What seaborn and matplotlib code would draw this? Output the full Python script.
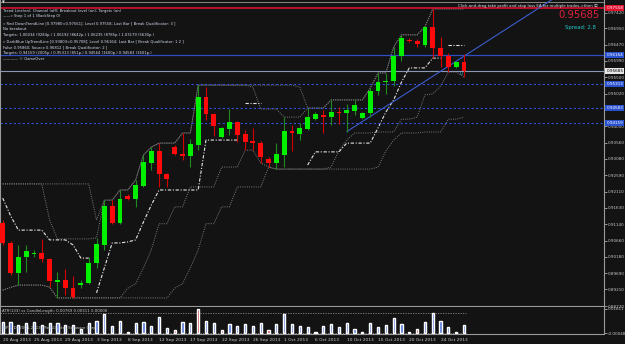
import matplotlib
matplotlib.use("Agg")
import matplotlib.pyplot as plt
import matplotlib.transforms as mtrans
import numpy as np
import pandas as pd
import seaborn as sns

# ---------------- data ----------------
date_labels = ["20 Aug 2013", "25 Aug 2013", "29 Aug 2013", "3 Sep 2013", "8 Sep 2013",
               "12 Sep 2013", "17 Sep 2013", "22 Sep 2013", "26 Sep 2013", "1 Oct 2013",
               "6 Oct 2013", "10 Oct 2013", "15 Oct 2013", "20 Oct 2013", "24 Oct 2013"]

opens = [0.9118, 0.9059, 0.8970, 0.9017, 0.9026, 0.9029, 0.9011, 0.8943, 0.8949, 0.8925,
         0.8934, 0.8940, 0.9000, 0.9053, 0.9169, 0.9118, 0.9198, 0.9189, 0.9228, 0.9296,
         0.9332, 0.9263, 0.9343, 0.9323, 0.9317, 0.9349, 0.9492, 0.9441, 0.9373, 0.9397,
         0.9418, 0.9382, 0.9361, 0.9355, 0.9308, 0.9296, 0.9320, 0.9391, 0.9382, 0.9397,
         0.9427, 0.9438, 0.9432, 0.9447, 0.9444, 0.9450, 0.9429, 0.9444, 0.9510, 0.9536,
         0.9539, 0.9613, 0.9661, 0.9658, 0.9646, 0.9699, 0.9637, 0.9613, 0.9581, 0.9596]
highs = [0.9127, 0.9065, 0.9053, 0.9053, 0.9038, 0.9071, 0.9013, 0.8973, 0.8982, 0.8961,
         0.8949, 0.9017, 0.9074, 0.9186, 0.9186, 0.9216, 0.9204, 0.9246, 0.9320, 0.9343,
         0.9355, 0.9265, 0.9349, 0.9385, 0.9367, 0.9527, 0.9521, 0.9443, 0.9402, 0.9456,
         0.9420, 0.9394, 0.9400, 0.9361, 0.9314, 0.9355, 0.9432, 0.9409, 0.9415, 0.9459,
         0.9447, 0.9453, 0.9483, 0.9462, 0.9471, 0.9483, 0.9447, 0.9518, 0.9563, 0.9563,
         0.9640, 0.9676, 0.9667, 0.9664, 0.9700, 0.9753, 0.9670, 0.9622, 0.9598, 0.9619]
lows = [0.9053, 0.8964, 0.8934, 0.8973, 0.9017, 0.9003, 0.8928, 0.8896, 0.8905, 0.8896,
        0.8925, 0.8938, 0.8985, 0.9038, 0.9116, 0.9116, 0.9186, 0.9166, 0.9226, 0.9275,
        0.9225, 0.9225, 0.9320, 0.9305, 0.9284, 0.9334, 0.9424, 0.9376, 0.9371, 0.9379,
        0.9358, 0.9334, 0.9334, 0.9296, 0.9284, 0.9278, 0.9284, 0.9332, 0.9364, 0.9395,
        0.9424, 0.9385, 0.9409, 0.9412, 0.9388, 0.9438, 0.9426, 0.9432, 0.9498, 0.9501,
        0.9524, 0.9598, 0.9655, 0.9640, 0.9640, 0.9607, 0.9581, 0.9566, 0.9578, 0.9551]
closes = [0.9059, 0.8970, 0.9017, 0.9035, 0.9030, 0.9011, 0.8946, 0.8949, 0.8925, 0.8899,
          0.8940, 0.9000, 0.9056, 0.9169, 0.9118, 0.9189, 0.9189, 0.9231, 0.9299, 0.9332,
          0.9263, 0.9249, 0.9323, 0.9317, 0.9352, 0.9492, 0.9441, 0.9406, 0.9400, 0.9418,
          0.9379, 0.9358, 0.9355, 0.9314, 0.9296, 0.9323, 0.9391, 0.9385, 0.9400, 0.9432,
          0.9441, 0.9432, 0.9447, 0.9444, 0.9453, 0.9468, 0.9444, 0.9510, 0.9536, 0.9539,
          0.9613, 0.9667, 0.9658, 0.9649, 0.9699, 0.9637, 0.9613, 0.9581, 0.9596, 0.9569]

# dotted channel lines (long and short), read per bar
chan_long_up = [0.9234, 0.9234, 0.9234, 0.9234, 0.9234, 0.9234, 0.9234, 0.9234, 0.9234, 0.9234,
                0.9234, 0.9234, 0.9127, 0.9186, 0.9186, 0.9216, 0.9216, 0.9246, 0.9320, 0.9343,
                0.9355, 0.9355, 0.9355, 0.9385, 0.9385, 0.9527, 0.9527, 0.9527, 0.9527, 0.9527,
                0.9527, 0.9527, 0.9527, 0.9527, 0.9527, 0.9527, 0.9527, 0.9527, 0.9521, 0.9459,
                0.9459, 0.9459, 0.9483, 0.9483, 0.9483, 0.9483, 0.9483, 0.9518, 0.9563, 0.9563,
                0.9640, 0.9676, 0.9676, 0.9676, 0.9700, 0.9753, 0.9753, 0.9753, 0.9753, 0.9753]
chan_long_dn = [0.8919, 0.8927, 0.8934, 0.8934, 0.8934, 0.8934, 0.8928, 0.8896, 0.8896, 0.8896,
                0.8896, 0.8896, 0.8896, 0.8896, 0.8896, 0.8896, 0.8896, 0.8896, 0.8896, 0.8896,
                0.8896, 0.8896, 0.8925, 0.8938, 0.8985, 0.9038, 0.9116, 0.9116, 0.9166, 0.9166,
                0.9225, 0.9225, 0.9225, 0.9225, 0.9284, 0.9278, 0.9278, 0.9278, 0.9278, 0.9278,
                0.9278, 0.9278, 0.9278, 0.9278, 0.9278, 0.9278, 0.9278, 0.9278, 0.9284, 0.9332,
                0.9364, 0.9385, 0.9385, 0.9385, 0.9388, 0.9388, 0.9388, 0.9426, 0.9426, 0.9432]
chan_short_up = [0.9234, 0.9234, 0.9234, 0.9234, 0.9234, 0.9234, 0.9127, 0.9071, 0.9071, 0.9071,
                 0.9071, 0.9071, 0.9074, 0.9186, 0.9186, 0.9216, 0.9216, 0.9246, 0.9320, 0.9343,
                 0.9355, 0.9355, 0.9355, 0.9385, 0.9385, 0.9527, 0.9527, 0.9527, 0.9527, 0.9527,
                 0.9527, 0.9527, 0.9521, 0.9456, 0.9456, 0.9456, 0.9432, 0.9432, 0.9432, 0.9459,
                 0.9459, 0.9459, 0.9483, 0.9483, 0.9483, 0.9483, 0.9483, 0.9518, 0.9563, 0.9563,
                 0.9640, 0.9676, 0.9676, 0.9676, 0.9700, 0.9753, 0.9753, 0.9753, 0.9753, 0.9753]
chan_short_dn = [0.8919, 0.8927, 0.8934, 0.8934, 0.8934, 0.8934, 0.8928, 0.8896, 0.8896, 0.8896,
                 0.8896, 0.8896, 0.8896, 0.8896, 0.8896, 0.8896, 0.8925, 0.8938, 0.8985, 0.9038,
                 0.9116, 0.9116, 0.9166, 0.9166, 0.9225, 0.9225, 0.9225, 0.9225, 0.9284, 0.9284,
                 0.9284, 0.9334, 0.9334, 0.9296, 0.9284, 0.9278, 0.9278, 0.9278, 0.9278, 0.9278,
                 0.9278, 0.9278, 0.9284, 0.9332, 0.9364, 0.9385, 0.9385, 0.9385, 0.9388, 0.9388,
                 0.9388, 0.9426, 0.9426, 0.9432, 0.9498, 0.9501, 0.9524, 0.9566, 0.9566, 0.9551]

# trailing stop line (white dash-dot), segments
stop_segments = [
    ([0, 1, 2, 3, 4, 5, 6, 7, 8, 9, 10, 11],
     [0.9192, 0.9140, 0.9097, 0.9097, 0.9097, 0.9097, 0.9068, 0.9068, 0.9068, 0.9053, 0.9014, 0.9014]),
    ([12, 13, 14, 15, 16, 17, 18, 19, 20, 21, 22, 23, 24, 25, 26, 27, 28, 29, 30],
     [0.8911, 0.8985, 0.9059, 0.9059, 0.9062, 0.9068, 0.9121, 0.9171, 0.9216, 0.9216,
      0.9216, 0.9216, 0.9216, 0.9216, 0.9364, 0.9364, 0.9364, 0.9364, 0.9364]),
    ([31, 32, 33], [0.9474, 0.9474, 0.9474]),
    ([39, 40, 41, 42, 43, 44, 45, 46, 47, 48, 49, 50, 51, 52, 53, 54, 55, 56],
     [0.9290, 0.9329, 0.9329, 0.9329, 0.9329, 0.9355, 0.9355, 0.9355, 0.9355, 0.9400,
      0.9447, 0.9483, 0.9536, 0.9578, 0.9578, 0.9578, 0.9607, 0.9607]),
    ([57, 58, 59], [0.9646, 0.9646, 0.9646]),
]

# candle length histogram (sub window)
candle_len = [0.0083, 0.0083, 0.0057, 0.0071, 0.0083, 0.0057, 0.0075, 0.0071, 0.0057, 0.0057,
              0.0026, 0.0075, 0.0088, 0.0143, 0.0050, 0.0091, 0.0005, 0.0075, 0.0078, 0.0050,
              0.0122, 0.0036, 0.0019, 0.0078, 0.0075, 0.0181, 0.0088, 0.0075, 0.0019, 0.0065,
              0.0050, 0.0063, 0.0050, 0.0075, 0.0019, 0.0065, 0.0140, 0.0065, 0.0050, 0.0044,
              0.0005, 0.0050, 0.0065, 0.0044, 0.0075, 0.0032, 0.0005, 0.0075, 0.0044, 0.0057,
              0.0114, 0.0065, 0.0005, 0.0026, 0.0078, 0.0148, 0.0088, 0.0044, 0.0005, 0.0057]
candle_len_red = [16, 22, 25, 28, 34, 40, 46, 52, 53, 58]
candle_len_level = 0.0150

price_ticks = [0.97420, 0.96950, 0.96470, 0.95990, 0.95500, 0.95020, 0.94050, 0.93560,
               0.93080, 0.92590, 0.92110, 0.91630, 0.91140, 0.90660, 0.90180, 0.89690, 0.89210,
               0.88720]
price_tick_labels = ["%.5f" % v for v in price_ticks]

red_level = 0.97558
blue_level = 0.96164
current_price = 0.95685
target_levels = [0.95313, 0.94583, 0.94159]

trend_bars = [44, 56]
trend_prices = [0.9389, 0.9568]

info_lines = [
    "Trend Line(on); Channel (off); Breakout level (on); Targets (on)",
    "\u2014\u2014\u00bb Step 1 of 1 (BackStep 0)",
    "\u00bb Red DownTrendLine [0.97980<0.97561]; Level 0.97558; Last Bar [ Break Qualificator: 3 ]",
    "No breakout",
    "Targets: 1.06034 (9284p.) 1.06192 (8642p.) 1.06235 (8785p.) 1.03179 (5630p.)",
    "\u00bb DarkBlue UpTrendLine [0.93803<0.95708]; Level 0.96164; Last Bar [ Break Qualificator: 1 2 ]",
    "False 0.95860; Source 0.96812 [ Break Qualificator: 2 ]",
    "Targets: 0.94159 (2005p.) 0.95313 (851p.) 0.94564 (1600p.) 0.94583 (1601p.)",
    "\u2014\u2014\u2014\u2014 \u00a9 GameOver",
]
info_y = [11, 16.5, 23.5, 29, 35, 41.5, 47, 53, 59]

# ---------------- style ----------------
sns.set_theme(style="dark")
plt.rcParams["font.family"] = ["DejaVu Sans", "Noto Sans CJK SC"]
BG = "#131313"
TXT = "#c8c8c8"
W, H = 625, 344

def fx(px):
    return px / W

def fy(py):
    return 1 - py / H

fig = plt.figure(figsize=(6.25, 3.44), dpi=100)
fig.patch.set_facecolor(BG)
ax = fig.add_axes([0, fy(306), fx(604), 306 / H])
axb = fig.add_axes([0, fy(333.5), fx(604), 26.5 / H])
for a in (ax, axb):
    a.set_facecolor(BG)
    a.grid(False)
    for s in a.spines.values():
        s.set_color("#9a9a9a")
        s.set_linewidth(0.8)
    a.spines["top"].set_visible(False)

n = len(opens)
bars = np.arange(n)
xlim = (-0.345, 76.9)
ax.set_xlim(*xlim)
ax.set_ylim(0.88720, 0.97793)

# ---------------- channel lines ----------------
DOT = (0, (1, 1.3))
for line in (chan_long_up, chan_long_dn, chan_short_up, chan_short_dn):
    sns.lineplot(x=bars, y=line, ax=ax, color="#7c7c7c", lw=0.7, linestyle=DOT, zorder=2)
for xs, ys in stop_segments:
    sns.lineplot(x=xs, y=ys, ax=ax, color="#e4e4e4", lw=0.8,
                 linestyle=(0, (3, 1.5, 1, 1.5)), zorder=2)

# ---------------- candles ----------------
df = pd.DataFrame(dict(bar=bars, o=opens, h=highs, l=lows, c=closes))
df["bull"] = df.c >= df.o
for bull, sub in df.groupby("bull"):
    wick = "#1f8a1f" if bull else "#d40000"
    body = "#00f000" if bull else "#ff0a0a"
    ax.vlines(sub.bar, sub.l, sub.h, color=wick, lw=0.8, zorder=3)
    ax.bar(sub.bar, (sub.c - sub.o).abs().clip(lower=0.00012), bottom=np.minimum(sub.o, sub.c),
           width=0.62, color=body, lw=0, zorder=4)

# ---------------- levels ----------------
ax.axhline(red_level, color="#d81030", lw=1.2, zorder=2)
ax.axhline(0.97745, color="#9a9a9a", lw=0.6, zorder=2)
ax.axhline(blue_level, color="#2f4fc0", lw=0.9, zorder=2)
ax.axhline(current_price, color="#8a98b4", lw=0.8, zorder=2)
for lv in target_levels:
    ax.axhline(lv, color="#3050d8", lw=0.8, linestyle=(0, (2, 2)), zorder=2)

slope = (trend_prices[1] - trend_prices[0]) / (trend_bars[1] - trend_bars[0])
tx = np.array([trend_bars[0], 75])
ax.plot(tx, trend_prices[0] + slope * (tx - trend_bars[0]), color="#3c5ccc", lw=0.8, zorder=2)

# ---------------- price axis ----------------
ax.yaxis.tick_right()
ax.set_yticks(price_ticks, price_tick_labels)
ax.tick_params(axis="y", labelsize=3.0, colors=TXT, length=2, width=0.5, pad=1)
ax.set_xticks([])

blend = mtrans.blended_transform_factory(ax.transAxes, ax.transData)
tags = [(red_level, "#e0102f", "white"), (blue_level, "#2a52d0", "white"),
        (current_price, "#e6e6e6", "black")] + [(lv, "#2a52d0", "white") for lv in target_levels]
for lv, fc, tc in tags:
    ax.text(1.004, lv, "%.5f" % lv, transform=blend, ha="left", va="center", fontsize=3.0,
            color=tc, bbox=dict(boxstyle="square,pad=0.25", fc=fc, ec="none"), clip_on=False, zorder=10)

# ---------------- sub window ----------------
kind = ["red" if i in candle_len_red else "blue" for i in bars]
sub_df = pd.DataFrame({"bar": bars, "len": candle_len, "kind": kind})
sns.barplot(data=sub_df, x="bar", y="len", hue="kind", palette={"blue": "#3c6cf0", "red": "#e02020"},
            dodge=False, width=0.28, legend=False, ax=axb, native_scale=True, zorder=3)
axb.set_xlim(*xlim)
axb.set_ylim(-0.00060, 0.0196)
axb.hlines([candle_len_level, 0.0], -0.3, n - 1 + 0.3, color="#8a8a8a", lw=0.6,
           linestyles=(0, (1.5, 1.5)), zorder=2)
axb.set_xlabel("")
axb.set_ylabel("")
axb.yaxis.tick_right()
axb.set_yticks([0.01811, -0.00048], ["0.01811", "-0.00048"])
axb.tick_params(axis="y", labelsize=3.0, colors=TXT, length=2, width=0.5, pad=1)
axb.set_xticks(list(range(0, 4 * len(date_labels), 4)), date_labels, ha="left")
axb.tick_params(axis="x", labelsize=3.2, colors=TXT, length=2, width=0.5, pad=1.5)
axb.text(0.003, 0.86, "ATR(133) vs CandleLength: 0.00769 0.00311 0.00000", transform=axb.transAxes,
         fontsize=2.8, color=TXT, va="center", zorder=5)
axb.text(0.003, 0.2, "(BPX, D) 2001-2013, MetaQuotes Software Corp.", transform=axb.transAxes,
         fontsize=2.8, color=TXT, va="center", zorder=5)

# ---------------- annotations ----------------
fig.text(fx(2), fy(2.5), "\u25bc", fontsize=2.6, color="#e0e0e0", va="center", ha="left")
for t, y in zip(info_lines, info_y):
    fig.text(fx(3), fy(y), t, fontsize=2.7, color="#d4dcf0", va="center", ha="left")
fig.text(fx(458), fy(5.5), "Click-and-drag take profit and stop loss EA for multiple trades->then \u24d8",
         fontsize=2.8, color="#e8e8e8", va="center", ha="left")
fig.text(fx(600), fy(15), "0.95685", fontsize=7.2, color="#e0203c", va="center", ha="right")
fig.text(fx(596), fy(28), "Spread: 2.8", fontsize=3.9, color="#20c8c8", va="center", ha="right")
ax.text(58.6, 0.9560, "U", fontsize=3.2, color="#30c8e8", ha="center", va="center", zorder=6)

fig.savefig("out.png", dpi=100, facecolor=BG)
